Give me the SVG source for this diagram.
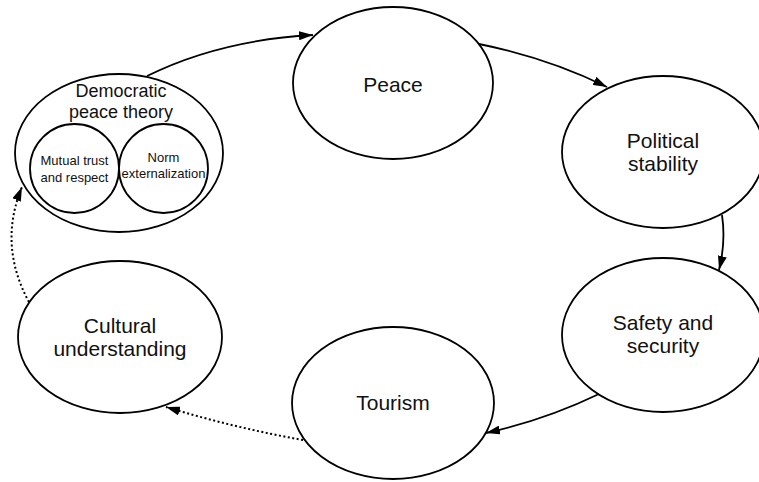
<svg xmlns="http://www.w3.org/2000/svg" width="759" height="482" viewBox="0 0 759 482">
<style>
.node{fill:#fff;stroke:#000;stroke-width:1.8}
.lbl{font-family:"Liberation Sans",Arial,sans-serif;font-size:21px;fill:#111;text-anchor:middle}
.lbl2{font-family:"Liberation Sans",Arial,sans-serif;font-size:18px;fill:#111;text-anchor:middle}
.small{font-family:"Liberation Sans",Arial,sans-serif;font-size:13px;fill:#111;text-anchor:middle}
.edge{fill:none;stroke:#000;stroke-width:1.8}
.dot{stroke-dasharray:2,2.5;stroke-width:2}
</style>
<defs>
<marker id="arr" viewBox="0 0 14 9" refX="14" refY="4.5" markerWidth="14" markerHeight="9" markerUnits="userSpaceOnUse" orient="auto">
<path d="M0,0 L14,4.5 L0,9 z" fill="#000"/>
</marker>
</defs>
<g id="node-democratic">
<ellipse class="node" cx="119" cy="153" rx="104" ry="79"/>
<text class="lbl2" x="121" y="97">Democratic</text>
<text class="lbl2" x="121" y="118">peace theory</text>
</g>
<g id="node-mutual">
<circle class="node" cx="74.5" cy="168.5" r="44.5"/>
<text class="small" x="74.5" y="165">Mutual trust</text>
<text class="small" x="74.5" y="182">and respect</text>
</g>
<g id="node-norm">
<circle class="node" cx="163.5" cy="168.5" r="44.5"/>
<text class="small" x="163.5" y="162">Norm</text>
<text class="small" x="163.5" y="178">externalization</text>
</g>
<g id="node-peace">
<ellipse class="node" cx="393" cy="83" rx="100" ry="76"/>
<text class="lbl" x="393" y="92">Peace</text>
</g>
<g id="node-political">
<ellipse class="node" cx="663" cy="152" rx="101" ry="76"/>
<text class="lbl" x="663" y="148">Political</text>
<text class="lbl" x="663" y="171">stability</text>
</g>
<g id="node-safety">
<ellipse class="node" cx="663" cy="335" rx="101" ry="77"/>
<text class="lbl" x="663" y="330">Safety and</text>
<text class="lbl" x="663" y="353">security</text>
</g>
<g id="node-tourism">
<ellipse class="node" cx="393" cy="403" rx="101" ry="76"/>
<text class="lbl" x="393" y="410">Tourism</text>
</g>
<g id="node-cultural">
<ellipse class="node" cx="120" cy="337" rx="102" ry="76"/>
<text class="lbl" x="120" y="333">Cultural</text>
<text class="lbl" x="120" y="356">understanding</text>
</g>
<g id="connectors">
<path class="edge" d="M147,76 Q220,40 313,35" marker-end="url(#arr)"/>
<path class="edge" d="M479,44 Q548,58 607,87" marker-end="url(#arr)"/>
<path class="edge" d="M722,215 Q726,242 719,270" marker-end="url(#arr)"/>
<path class="edge" d="M599,394 Q545,420 486,433" marker-end="url(#arr)"/>
<path class="edge dot" d="M303,440 Q235,428 166,407" marker-end="url(#arr)"/>
<path class="edge dot" d="M29,302 Q-2,245 22,187" marker-end="url(#arr)"/>
</g>
</svg>
